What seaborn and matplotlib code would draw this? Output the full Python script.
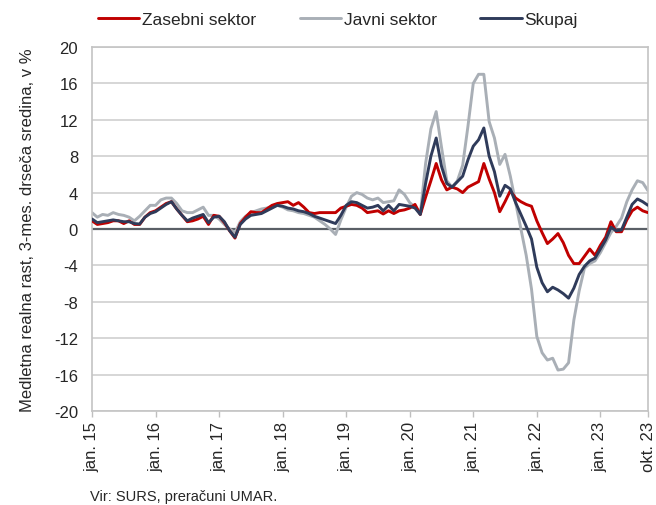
import numpy as np
import pandas as pd
import seaborn as sns
import matplotlib.pyplot as plt

# podatki: mesečno jan. 2015 - okt. 2023, medletna realna rast (3-mes. drseča sredina), v %
zasebni = [
    0.9, 0.5, 0.6, 0.7, 0.9, 0.9, 0.6, 0.9, 0.5, 0.5, 1.3, 1.8,      # 2015
    2.0, 2.4, 2.8, 3.0, 2.2, 1.5, 0.8, 0.9, 1.1, 1.4, 0.5, 1.5,      # 2016
    1.4, 0.7, -0.2, -1.0, 0.6, 1.3, 1.9, 1.8, 1.8, 2.2, 2.6, 2.8,    # 2017
    2.9, 3.0, 2.6, 2.9, 2.4, 1.8, 1.7, 1.8, 1.8, 1.8, 1.8, 2.3,      # 2018
    2.5, 2.7, 2.6, 2.3, 1.8, 1.9, 2.0, 1.65, 2.0, 1.7, 2.0, 2.1,     # 2019
    2.3, 2.7, 1.6, 3.5, 5.3, 7.2, 5.4, 4.3, 4.6, 4.4, 4.0, 4.6,      # 2020
    4.9, 5.2, 7.2, 5.5, 4.0, 1.9, 3.0, 4.2, 3.4, 3.0, 2.7, 2.5,      # 2021
    0.9, -0.4, -1.6, -1.1, -0.5, -1.5, -2.9, -3.8, -3.8, -3.0, -2.2, -2.9,  # 2022
    -1.8, -0.9, 0.8, -0.3, -0.3, 1.0, 2.0, 2.4, 2.0, 1.8,            # 2023
]
javni = [
    1.8, 1.3, 1.6, 1.5, 1.8, 1.6, 1.5, 1.3, 0.9, 1.4, 2.0, 2.6,
    2.6, 3.2, 3.4, 3.4, 2.8, 2.0, 1.8, 1.8, 2.1, 2.4, 1.5, 1.5,
    1.1, 0.5, 0.0, -0.4, 0.8, 1.4, 1.8, 2.0, 2.2, 2.3, 2.5, 2.6,
    2.4, 2.1, 2.0, 1.8, 1.7, 1.5, 1.3, 0.9, 0.5, 0.0, -0.6, 1.0,
    2.4, 3.6, 4.0, 3.8, 3.4, 3.2, 3.4, 2.9, 3.0, 3.1, 4.3, 3.8,
    2.9, 2.4, 1.6, 7.2, 11.0, 12.9, 9.0, 5.3, 4.6, 5.3, 7.0, 11.3,
    16.0, 17.0, 17.0, 11.8, 10.0, 7.1, 8.2, 5.8, 2.9, 0.0, -2.9, -6.6,
    -11.8, -13.6, -14.4, -14.2, -15.5, -15.4, -14.7, -10.0, -6.8, -4.3, -3.8, -3.5,
    -2.6, -1.5, -0.4, 0.3, 1.2, 3.0, 4.3, 5.3, 5.1, 4.2,
]
skupaj = [
    1.1, 0.7, 0.8, 0.9, 1.0, 0.9, 0.8, 0.8, 0.6, 0.55, 1.3, 1.7,
    1.9, 2.3, 2.7, 3.0, 2.2, 1.5, 0.9, 1.2, 1.4, 1.6, 0.7, 1.3,
    1.4, 0.8, -0.2, -0.9, 0.5, 1.1, 1.5, 1.6, 1.7, 2.0, 2.3, 2.6,
    2.5, 2.3, 2.2, 2.0, 1.9, 1.7, 1.4, 1.2, 1.0, 0.8, 0.6, 1.5,
    2.6, 3.0, 2.9, 2.6, 2.3, 2.4, 2.6, 2.0, 2.6, 2.0, 2.7, 2.6,
    2.5, 2.3, 1.6, 5.0, 8.0, 10.0, 6.9, 5.0, 4.6, 5.2, 5.8, 7.6,
    9.1, 9.8, 11.1, 8.0, 6.3, 3.6, 4.8, 4.4, 2.9, 1.6, 0.3, -1.1,
    -4.2, -5.9, -6.9, -6.4, -6.7, -7.1, -7.6, -6.5, -5.0, -4.1, -3.5, -3.2,
    -2.2, -1.2, 0.2, -0.2, -0.1, 1.3, 2.7, 3.3, 3.0, 2.6,
]
serije = ['Zasebni sektor', 'Javni sektor', 'Skupaj']
barve = ['#C00000', '#A9AFB6', '#2F3B5A']
tick_pos = [0, 12, 24, 36, 48, 60, 72, 84, 96, 105]
tick_lab = ['jan. 15', 'jan. 16', 'jan. 17', 'jan. 18', 'jan. 19',
            'jan. 20', 'jan. 21', 'jan. 22', 'jan. 23', 'okt. 23']

mesec = np.arange(len(zasebni))
df = pd.DataFrame({
    'mesec': np.tile(mesec, 3),
    'rast': zasebni + javni + skupaj,
    'serija': np.repeat(serije, len(mesec)),
})

sns.set_theme(style='white')
plt.rcParams['font.family'] = ['Liberation Sans', 'DejaVu Sans']
plt.rcParams['axes.unicode_minus'] = False

fig, ax = plt.subplots(figsize=(6.56, 5.06), dpi=100)
fig.subplots_adjust(left=92/656, right=648/656, top=1-48/506, bottom=1-412/506)

for y in range(-20, 21, 4):
    if y != 0:
        ax.axhline(y, color='#D0D0D0', lw=1.2, zorder=0)
ax.axhline(0, color='#5A5F66', lw=1.6, zorder=1)

sns.lineplot(data=df, x='mesec', y='rast', hue='serija', hue_order=serije,
             palette=dict(zip(serije, barve)), lw=2.1, ax=ax, legend=False)
# javni spodaj, zasebni in skupaj čez
lines = ax.get_lines()[-3:]
lines[1].set_zorder(2)
lines[0].set_zorder(3)
lines[2].set_zorder(4)

ax.set_xlim(0, 105)
ax.set_ylim(-20, 20)
ax.set_yticks(range(-20, 21, 4))
ax.set_xticks(tick_pos)
ax.set_xticklabels(tick_lab, rotation=90)
ax.tick_params(axis='x', length=4, width=1, color='#BFBFBF', labelsize=12, pad=3, bottom=True)
ax.tick_params(axis='y', length=0, labelsize=12, pad=10)
for s in ax.spines.values():
    s.set_color('#C4C4C4')
    s.set_linewidth(1.2)
ax.set_xlabel('')
ax.set_ylabel('Medletna realna rast, 3-mes. drseča sredina, v %', fontsize=12, labelpad=14)

handles = [plt.Line2D([], [], color=c, lw=2.1) for c in barve]
fig.legend(handles, serije, loc='upper center', bbox_to_anchor=(0.515, 1.005), ncol=3,
           frameon=False, fontsize=12.5, handlelength=2.4, handletextpad=0.15, columnspacing=2.5)

fig.text(90/656, 1-497/506, 'Vir: SURS, preračuni UMAR.', fontsize=10.5, va='center', ha='left')

fig.savefig('out.png', dpi=100)
